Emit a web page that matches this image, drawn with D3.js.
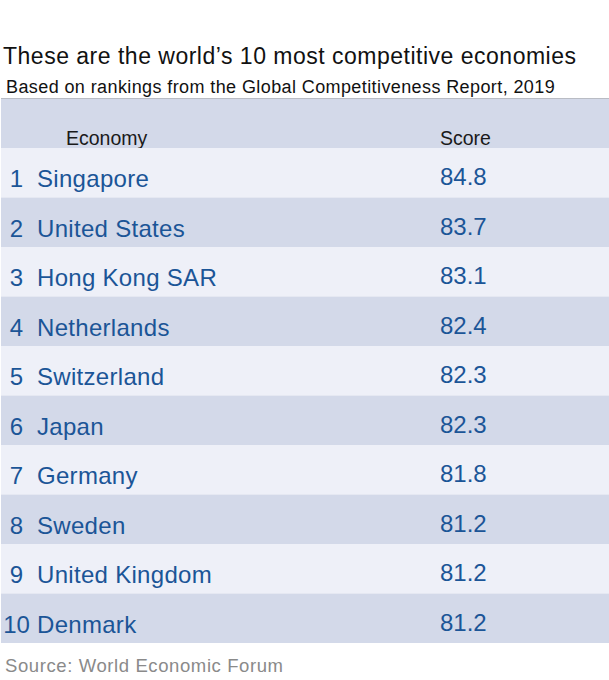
<!DOCTYPE html>
<html>
<head>
<meta charset="utf-8">
<script src="https://cdn.jsdelivr.net/npm/d3@7"></script>
<style>
  html, body { margin: 0; padding: 0; background: #fff; }
  svg { display: block; }
</style>
</head>
<body>
<div id="chart"></div>
<script>
/* ── data ─────────────────────────────────────────────── */
const ranks     = [1, 2, 3, 4, 5, 6, 7, 8, 9, 10];
const economies = ['Singapore', 'United States', 'Hong Kong SAR', 'Netherlands', 'Switzerland',
                   'Japan', 'Germany', 'Sweden', 'United Kingdom', 'Denmark'];
const scores    = [84.8, 83.7, 83.1, 82.4, 82.3, 82.3, 81.8, 81.2, 81.2, 81.2];
const headers   = ['Economy', 'Score'];

const W = 609, H = 680;
const FONT = 'Liberation Sans, Arial, Helvetica, sans-serif';
const BLUE = '#1b5597';
const DARK = '#d3d9e9', LIGHT = '#eef0f8';

const rows = ranks.map((r, i) => ({ rank: r, name: economies[i], score: scores[i] }));

const svg = d3.select('#chart').append('svg')
  .attr('width', W).attr('height', H).attr('viewBox', `0 0 ${W} ${H}`);

/* title + subtitle (letter-spacing to mimic Helvetica Neue widths) */
svg.append('text').attr('x', 3).attr('y', 64)
  .attr('font-family', FONT).attr('font-size', 23).attr('letter-spacing', 0.5).attr('fill', '#111')
  .text('These are the world\u2019s 10 most competitive economies');
svg.append('text').attr('x', 6).attr('y', 92.5)
  .attr('font-family', FONT).attr('font-size', 18).attr('letter-spacing', 0.4).attr('fill', '#111')
  .text('Based on rankings from the Global Competitiveness Report, 2019');

/* table scales */
const y = d3.scaleBand().domain(ranks).range([148, 643]);
const tableX0 = 1, tableX1 = W;

/* header band */
svg.append('rect').attr('x', tableX0).attr('y', 98).attr('width', tableX1 - tableX0).attr('height', 50)
  .attr('fill', DARK);
svg.append('line').attr('x1', tableX0).attr('x2', tableX1).attr('y1', 98.5).attr('y2', 98.5)
  .attr('stroke', '#b9bcc4').attr('stroke-width', 1.2);

const colX = { rank: 16.5, name: 37, score: 440 };
svg.append('text').attr('x', 66).attr('y', 145)
  .attr('font-family', FONT).attr('font-size', 19.5).attr('fill', '#1a1a1a').text(headers[0]);
svg.append('text').attr('x', colX.score).attr('y', 145)
  .attr('font-family', FONT).attr('font-size', 19.5).attr('fill', '#1a1a1a').text(headers[1]);

/* rows */
const g = svg.selectAll('g.row').data(rows).join('g')
  .attr('class', 'row')
  .attr('transform', d => `translate(0,${y(d.rank)})`);

g.append('rect')
  .attr('x', tableX0).attr('width', tableX1 - tableX0).attr('height', y.bandwidth())
  .attr('fill', (d, i) => i % 2 === 0 ? LIGHT : DARK);

const baseOff = 39;
g.append('text').attr('x', colX.rank).attr('y', baseOff)
  .attr('text-anchor', 'middle')
  .attr('font-family', FONT).attr('font-size', 24).attr('fill', BLUE)
  .text(d => d.rank);
g.append('text').attr('x', colX.name).attr('y', baseOff)
  .attr('font-family', FONT).attr('font-size', 24).attr('letter-spacing', 0.3).attr('fill', BLUE)
  .text(d => d.name);
g.append('text').attr('x', colX.score).attr('y', baseOff - 2)
  .attr('font-family', FONT).attr('font-size', 24).attr('fill', BLUE)
  .text(d => d3.format('.1f')(d.score));

/* source */
svg.append('text').attr('x', 5).attr('y', 671.5)
  .attr('font-family', FONT).attr('font-size', 18.5).attr('letter-spacing', 0.6).attr('fill', '#8a8a8a')
  .text('Source: World Economic Forum');
</script>
</body>
</html>
